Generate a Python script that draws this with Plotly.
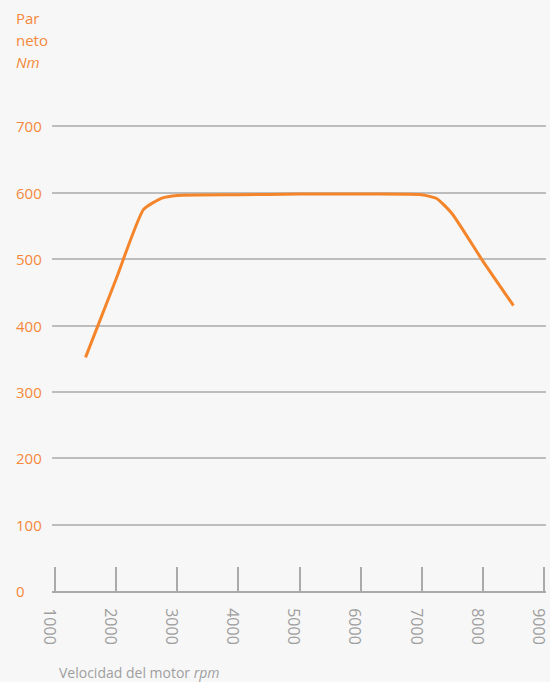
import plotly.graph_objects as go

rpm = [1500, 2000, 2450, 2750, 3000, 4000, 5000, 6000, 7000, 7250, 7500, 8000, 8500]
torque = [352, 470, 575, 592, 596, 597, 598, 598, 597, 591, 568, 497, 430]

y_ticks = [0, 100, 200, 300, 400, 500, 600, 700]
x_ticks = [1000, 2000, 3000, 4000, 5000, 6000, 7000, 8000, 9000]
y_title_lines = ["Par", "neto", "<i>Nm</i>"]
x_title = "Velocidad del motor <i>rpm</i>"

ORANGE = "#F5883A"
GREY_TXT = "#9E9E9E"
GRID = "#BDBDBD"
BG = "#F7F7F7"
FONT = "Open Sans"

fig = go.Figure()
fig.add_trace(go.Scatter(
    x=rpm, y=torque, mode="lines",
    line=dict(color="#F5852B", width=3, shape="spline", smoothing=0.5),
    hoverinfo="skip", showlegend=False,
))

fig.update_layout(
    width=550, height=682,
    margin=dict(l=52, r=0, t=60, b=91),
    paper_bgcolor=BG, plot_bgcolor=BG,
    font=dict(family=FONT, size=15, color=GREY_TXT),
    xaxis=dict(
        range=[951.3, 9032.5], tickvals=x_ticks, ticktext=[str(v) for v in x_ticks],
        tickangle=90, ticks="inside", ticklen=24, tickwidth=1.5, tickcolor="#AAAAAA",
        showgrid=False, zeroline=False, showline=True, linecolor="#AAAAAA", linewidth=2,
        tickfont=dict(family=FONT, size=16, color=GREY_TXT),
        ticklabelstandoff=12, ticklabelshift=-6, ticklabeloverflow="allow",
        fixedrange=True,
    ),
    yaxis=dict(
        range=[0, 800], tickvals=y_ticks, showticklabels=False,
        showgrid=True, gridcolor=GRID, gridwidth=1.5, zeroline=False,
        showline=False, ticks="", fixedrange=True,
    ),
)

# left-aligned y tick labels, placed on the y axis scale
for v in y_ticks:
    fig.add_annotation(
        x=0, xref="paper", xshift=-38, y=v, yref="y",
        text=str(v), showarrow=False, xanchor="left", yanchor="middle",
        font=dict(family=FONT, size=15, color=ORANGE),
    )

# y title lines
for i, t in enumerate(y_title_lines):
    py = 18 + 22 * i
    fig.add_annotation(
        x=0, xref="paper", xshift=-38, y=(591 - py) / 531, yref="paper",
        text=t, showarrow=False, xanchor="left", yanchor="middle",
        font=dict(family=FONT, size=15, color=ORANGE),
    )

# x title
fig.add_annotation(
    x=0, xref="paper", xshift=5, y=(591 - 672) / 531, yref="paper",
    text=x_title, showarrow=False, xanchor="left", yanchor="middle",
    font=dict(family=FONT, size=14, color=GREY_TXT),
)

fig.write_html(
    "out.html",
    config={"displayModeBar": False},
    post_script="document.body.style.margin='0';document.body.style.background='#F7F7F7';",
)
